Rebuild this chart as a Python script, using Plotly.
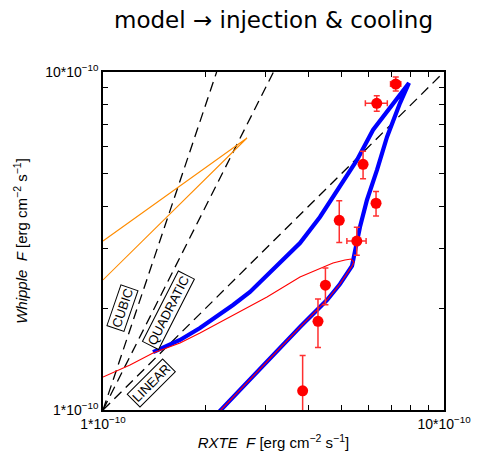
import math
import plotly.graph_objects as go

# Fluxes in units of 1e-10 erg cm^-2 s^-1
# Observed points (RXTE vs Whipple)
obs_x = [7.22, 6.35, 5.79, 6.32, 4.93, 5.55, 4.49, 4.27, 3.85]
obs_y = [9.21, 8.08, 5.33, 4.09, 3.64, 3.16, 2.34, 1.83, 1.14]
obs_xerr = [0.25, 0.47, 0.0, 0.0, 0.0, 0.36, 0.0, 0.0, 0.0]
obs_yerr_plus = [0.46, 0.43, 0.50, 0.34, 0.52, 0.31, 0.29, 0.30, 0.31]
obs_yerr_minus = [0.42, 0.43, 0.50, 0.34, 0.51, 0.29, 0.29, 0.30, 0.31]

# Injection & cooling model track (blue)
model_x = [1.402, 1.682, 1.925, 2.131, 2.406, 2.698, 3.027, 3.419, 3.782, 4.328,
           4.955, 5.559, 6.192, 6.944, 7.684, 7.894, 7.430, 6.806, 6.362, 5.944,
           5.670, 5.483, 5.373, 4.955, 4.538, 3.782, 3.261, 2.644, 2.174]
model_y = [1.484, 1.611, 1.748, 1.872, 2.045, 2.234, 2.508, 2.817, 3.120, 3.724,
           4.569, 5.491, 6.736, 7.880, 9.029, 9.280, 8.094, 6.424, 5.130, 4.182,
           3.479, 2.974, 2.667, 2.359, 2.116, 1.760, 1.505, 1.210, 0.980]

# Alternative track (red, thin)
alt_x = [1.000, 1.200, 1.402, 1.682, 1.925, 2.406, 3.027, 3.782, 4.726, 5.125,
         5.338, 5.446, 5.373, 4.955, 4.538, 3.782, 3.261, 2.644, 2.174]
alt_y = [1.252, 1.359, 1.474, 1.578, 1.690, 1.910, 2.160, 2.475, 2.723, 2.779,
         2.797, 2.741, 2.667, 2.359, 2.116, 1.760, 1.505, 1.210, 0.980]

# Orange track
orange_x = [1.000, 2.644, 1.000]
orange_y = [3.162, 6.379, 2.425]

# Reference power laws through (1, 1)
linear_x, linear_y = [1.0, 10.0], [1.0, 10.0]
quad_x, quad_y = [1.0, 3.162], [1.0, 10.0]
cubic_x, cubic_y = [1.0, 2.154], [1.0, 10.0]

major_vals = [1, 10]
major_text = ["1*10<sup>\u221210</sup>", "10*10<sup>\u221210</sup>"]
minor_vals = [2, 3, 4, 5, 6, 7, 8, 9]

# Label anchors (data units) for the power-law guides
guide_labels = ["CUBIC", "QUADRATIC", "LINEAR"]
guide_label_x = [1.137, 1.551, 1.392]
guide_label_y = [2.003, 1.976, 1.202]
guide_label_angle = [-71, -63, -45]

FONT = "Liberation Sans, Arial, sans-serif"

fig = go.Figure()

dash = dict(color="black", width=1.3, dash="10px,6px")
for gx, gy in [(linear_x, linear_y), (quad_x, quad_y), (cubic_x, cubic_y)]:
    fig.add_trace(go.Scatter(x=gx, y=gy, mode="lines", line=dash,
                             hoverinfo="skip", showlegend=False))

fig.add_trace(go.Scatter(x=orange_x, y=orange_y, mode="lines",
                         line=dict(color="#ff8c00", width=1.1),
                         showlegend=False))

fig.add_trace(go.Scatter(x=model_x, y=model_y, mode="lines",
                         line=dict(color="#0000ff", width=4.2),
                         showlegend=False))

fig.add_trace(go.Scatter(x=alt_x, y=alt_y, mode="lines",
                         line=dict(color="#ff0000", width=1.1),
                         showlegend=False))

fig.add_trace(go.Scatter(
    x=obs_x, y=obs_y, mode="markers",
    marker=dict(color="#ff0000", size=11, line=dict(width=0)),
    error_x=dict(type="data", array=obs_xerr, color="#ff3030",
                 thickness=1.5, width=3),
    error_y=dict(type="data", array=obs_yerr_plus, arrayminus=obs_yerr_minus,
                 color="#ff3030", thickness=1.5, width=3),
    showlegend=False))

for txt, lx, ly, ang in zip(guide_labels, guide_label_x, guide_label_y,
                            guide_label_angle):
    fig.add_annotation(x=math.log10(lx), y=math.log10(ly), text=txt,
                       textangle=ang, showarrow=False,
                       font=dict(family=FONT, size=13, color="black"),
                       bordercolor="black", borderwidth=1, borderpad=1,
                       bgcolor="white")

axis_common = dict(
    type="log", range=[0, 1], tickvals=major_vals, ticktext=major_text,
    ticks="inside", ticklen=5, tickwidth=1, tickcolor="black",
    minor=dict(tickvals=minor_vals, ticks="inside", ticklen=5, tickwidth=1,
               tickcolor="black", showgrid=False),
    showline=True, linecolor="black", linewidth=1.5, mirror="ticks",
    showgrid=False, zeroline=False, automargin=False,
    tickfont=dict(family=FONT, size=14, color="black"),
)

fig.update_layout(
    width=477, height=457,
    margin=dict(l=103, r=33, t=72, b=47),
    paper_bgcolor="white", plot_bgcolor="white",
    title=dict(text="model \u2192 injection & cooling", x=0.5, xref="paper",
               y=1 - 20 / 457, yanchor="middle", xanchor="center",
               font=dict(family="DejaVu Sans, sans-serif", size=23,
                         color="black")),
    xaxis=dict(**axis_common,
               title=dict(text="<i>RXTE</i>  <i>F</i> [erg cm<sup>\u22122</sup> s<sup>\u22121</sup>]",
                          font=dict(family=FONT, size=15, color="black"),
                          standoff=7)),
    yaxis=dict(**axis_common,
               title=dict(text="<i>Whipple</i>  <i>F</i> [erg cm<sup>\u22122</sup> s<sup>\u22121</sup>]",
                          font=dict(family=FONT, size=15, color="black"),
                          standoff=14)),
)

fig.write_html("out.html")
